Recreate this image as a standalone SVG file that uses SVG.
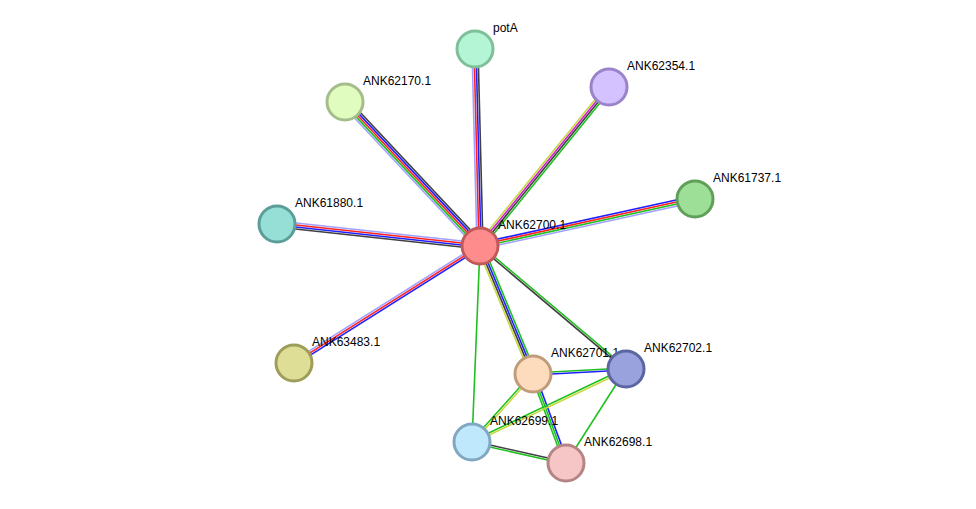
<svg xmlns="http://www.w3.org/2000/svg" width="976" height="509" viewBox="0 0 976 509">
<style>
line{stroke-width:1.6}
.lb{stroke:#9fa0ff}.r{stroke:#ff2020}.b{stroke:#2020ff}.k{stroke:#404040}.g{stroke:#20c020}.y{stroke:#c8d840}.m{stroke:#d020d0}
circle{stroke-width:3}
text{font-family:"Liberation Sans",Arial,sans-serif;font-size:12px;fill:#000}
</style>
<rect width="976" height="509" fill="#fff"/>
<g id="edges">
<g transform="translate(480,246) rotate(-91.45)"><line class="lb" x1="0" y1="-3" x2="197" y2="-3"/><line class="r" x1="0" y1="-1" x2="197" y2="-1"/><line class="b" x1="0" y1="1" x2="197" y2="1"/><line class="k" x1="0" y1="3" x2="197" y2="3"/></g>
<g transform="translate(480,246) rotate(-133.15)"><line class="lb" x1="0" y1="-4" x2="197" y2="-4"/><line class="g" x1="0" y1="-2" x2="197" y2="-2"/><line class="r" x1="0" y1="0" x2="197" y2="0"/><line class="b" x1="0" y1="2" x2="197" y2="2"/><line class="k" x1="0" y1="4" x2="197" y2="4"/></g>
<g transform="translate(480,246) rotate(-50.94)"><line class="y" x1="0" y1="-3" x2="205" y2="-3"/><line class="m" x1="0" y1="-1" x2="205" y2="-1"/><line class="k" x1="0" y1="1" x2="205" y2="1"/><line class="g" x1="0" y1="3" x2="205" y2="3"/></g>
<g transform="translate(480,246) rotate(-12.33)"><line class="b" x1="0" y1="-3" x2="220" y2="-3"/><line class="r" x1="0" y1="-1" x2="220" y2="-1"/><line class="g" x1="0" y1="1" x2="220" y2="1"/><line class="lb" x1="0" y1="3" x2="220" y2="3"/></g>
<g transform="translate(480,246) rotate(-173.81)"><line class="lb" x1="0" y1="3" x2="204" y2="3"/><line class="r" x1="0" y1="1" x2="204" y2="1"/><line class="b" x1="0" y1="-1" x2="204" y2="-1"/><line class="k" x1="0" y1="-3" x2="204" y2="-3"/></g>
<g transform="translate(480,246) rotate(147.83)"><line class="lb" x1="0" y1="2" x2="220" y2="2"/><line class="r" x1="0" y1="0" x2="220" y2="0"/><line class="b" x1="0" y1="-2" x2="220" y2="-2"/></g>
<g transform="translate(480,246) rotate(67.5)"><line class="y" x1="0" y1="3" x2="138" y2="3"/><line class="k" x1="0" y1="1" x2="138" y2="1"/><line class="b" x1="0" y1="-1" x2="138" y2="-1"/><line class="g" x1="0" y1="-3" x2="138" y2="-3"/></g>
<g transform="translate(480,246) rotate(40.11)"><line class="k" x1="0" y1="1" x2="191" y2="1"/><line class="g" x1="0" y1="-1" x2="191" y2="-1"/></g>
<line class="g" x1="480" y1="246" x2="472" y2="442"/>
<g transform="translate(533,374) rotate(-3.08)"><line class="g" x1="0" y1="-1" x2="93" y2="-1"/><line class="b" x1="0" y1="1" x2="93" y2="1"/></g>
<g transform="translate(533,374) rotate(131.9)"><line class="g" x1="0" y1="1" x2="91" y2="1"/><line class="y" x1="0" y1="-1" x2="91" y2="-1"/></g>
<g transform="translate(533,374) rotate(69.66)"><line class="b" x1="0" y1="-2" x2="95" y2="-2"/><line class="g" x1="0" y1="0" x2="95" y2="0"/><line class="g" x1="0" y1="2" x2="95" y2="2"/></g>
<g transform="translate(626,369) rotate(154.6)"><line class="g" x1="0" y1="1" x2="170" y2="1"/><line class="y" x1="0" y1="-1" x2="170" y2="-1"/></g>
<line class="g" x1="626" y1="369" x2="566" y2="463"/>
<g transform="translate(472,442) rotate(12.6)"><line class="k" x1="0" y1="-1" x2="96" y2="-1"/><line class="g" x1="0" y1="1" x2="96" y2="1"/></g>
</g>
<g id="potA"><circle cx="475" cy="49" r="18" fill="#b3f5d4" stroke="#7fbf9a"/><text x="493" y="32">potA</text></g>
<g id="ANK62170.1"><circle cx="345" cy="102" r="18" fill="#e1fcbf" stroke="#a5bd8a"/><text x="363" y="85">ANK62170.1</text></g>
<g id="ANK62354.1"><circle cx="609" cy="87" r="18" fill="#d3c2ff" stroke="#9a83c9"/><text x="627" y="70">ANK62354.1</text></g>
<g id="ANK61737.1"><circle cx="695" cy="199" r="18" fill="#9ddf96" stroke="#5f9f59"/><text x="713" y="182">ANK61737.1</text></g>
<g id="ANK61880.1"><circle cx="277" cy="224" r="18" fill="#96dfd6" stroke="#5c9e97"/><text x="295" y="207">ANK61880.1</text></g>
<g id="ANK63483.1"><circle cx="294" cy="363" r="18" fill="#dede97" stroke="#9e9e5b"/><text x="312" y="346">ANK63483.1</text></g>
<g id="ANK62700.1"><circle cx="480" cy="246" r="18" fill="#ff8c8c" stroke="#c05a5a"/><text x="498" y="229">ANK62700.1</text></g>
<g id="ANK62701.1"><circle cx="533" cy="374" r="18" fill="#fddcbd" stroke="#bf9c7c"/><text x="551" y="357">ANK62701.1</text></g>
<g id="ANK62702.1"><circle cx="626" cy="369" r="18" fill="#9aa2dd" stroke="#5b65a0"/><text x="644" y="352">ANK62702.1</text></g>
<g id="ANK62699.1"><circle cx="472" cy="442" r="18" fill="#c0e8fd" stroke="#80a8c0"/><text x="490" y="425">ANK62699.1</text></g>
<g id="ANK62698.1"><circle cx="566" cy="463" r="18" fill="#f6c5c5" stroke="#b58585"/><text x="584" y="446">ANK62698.1</text></g>
</svg>
